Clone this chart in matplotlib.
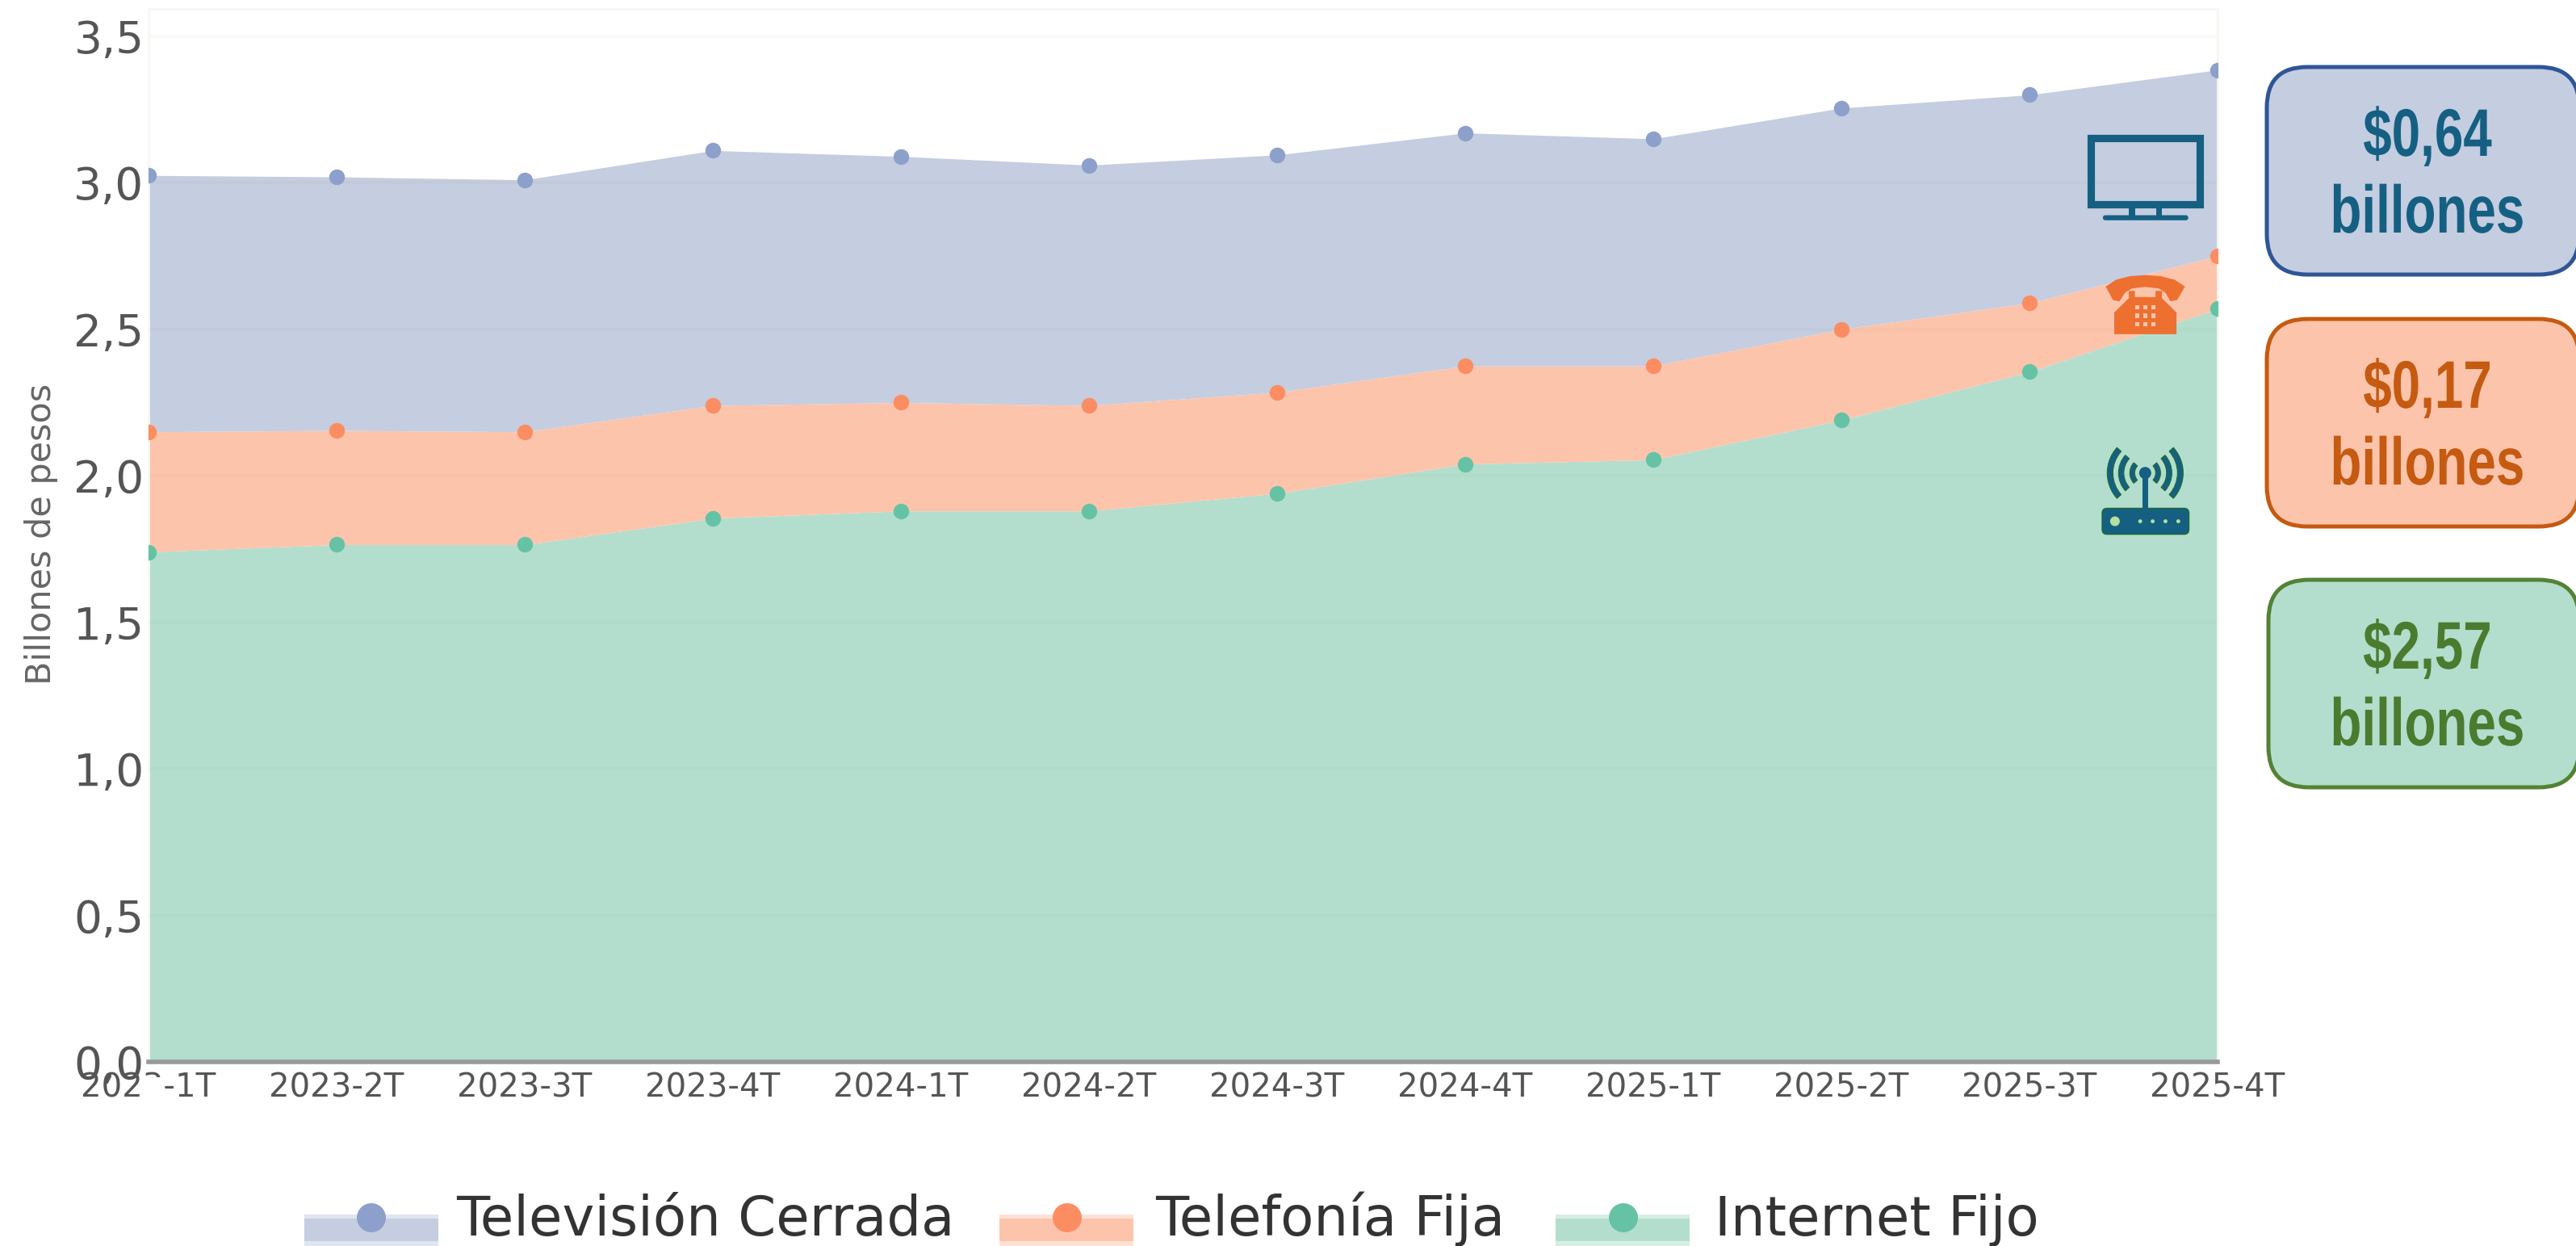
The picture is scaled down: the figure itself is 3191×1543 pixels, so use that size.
import matplotlib
matplotlib.use("Agg")
import matplotlib.pyplot as plt
from matplotlib.patches import FancyBboxPatch, Rectangle, Circle, Wedge, Polygon
from matplotlib.patheffects import AbstractPathEffect
from matplotlib.transforms import Affine2D

W, H = 3191, 1543
periods = ["2023-1T", "2023-2T", "2023-3T", "2023-4T", "2024-1T", "2024-2T",
           "2024-3T", "2024-4T", "2025-1T", "2025-2T", "2025-3T", "2025-4T"]
total_tv = [3.025, 3.02, 3.01, 3.11, 3.09, 3.06, 3.095, 3.17, 3.15, 3.255, 3.30, 3.385]
total_tel = [2.15, 2.155, 2.15, 2.24, 2.25, 2.24, 2.285, 2.375, 2.375, 2.50, 2.59, 2.75]
total_int = [1.74, 1.765, 1.765, 1.855, 1.88, 1.88, 1.94, 2.04, 2.055, 2.19, 2.355, 2.57]
y_ticks = [0, 0.5, 1, 1.5, 2, 2.5, 3, 3.5]
y_labels = ["0,0", "0,5", "1,0", "1,5", "2,0", "2,5", "3,0", "3,5"]
series_names = ["Televisión Cerrada", "Telefonía Fija", "Internet Fijo"]
callout_values = ["$0,64", "$0,17", "$2,57"]

FILL = ["#C5CDE0", "#FDC4AC", "#B3DECD"]
MARK = ["#8DA0CB", "#FC8D62", "#66C2A5"]
EDGE = ["#2F5597", "#C55A11", "#548235"]
TXT = ["#156082", "#C55A11", "#4B7B2F"]
TEAL = "#156082"
GRAY = "#555555"


class Narrow(AbstractPathEffect):
    """Squeeze real text horizontally about a pixel column."""

    def __init__(self, cx, sx):
        super().__init__()
        self.cx, self.sx = cx, sx

    def draw_path(self, renderer, gc, tpath, affine, rgbFace=None):
        t = Affine2D().translate(-self.cx, 0).scale(self.sx, 1).translate(self.cx, 0)
        renderer.draw_path(gc, tpath, affine + t, rgbFace)


fig = plt.figure(figsize=(W / 100, H / 100), dpi=100, facecolor="white")
L, R, T, B = 184, 2747, 11, 1315
ax = fig.add_axes([L / W, 1 - B / H, (R - L) / W, (B - T) / H])
x = list(range(len(periods)))
ax.set_xlim(0, 11)
ax.set_ylim(0, (B - T) / 362.9)

ax.fill_between(x, 0, total_int, color=FILL[2], lw=0, zorder=1)
ax.fill_between(x, total_int, total_tel, color=FILL[1], lw=0, zorder=1)
ax.fill_between(x, total_tel, total_tv, color=FILL[0], lw=0, zorder=1)
for yv in y_ticks[1:]:
    ax.axhline(yv, color="#8a7a50", alpha=0.035, lw=3, zorder=2)
for vals, c in zip([total_tv, total_tel, total_int], MARK):
    ax.plot(x, vals, ls="none", marker="o", ms=14, mec="none", mfc=c, zorder=3)

ax.set_xticks(x, periods)
ax.set_yticks(y_ticks, y_labels)
ax.tick_params(axis="x", length=0, pad=9, labelsize=29, colors=GRAY)
ax.tick_params(axis="y", length=0, pad=4, labelsize=39.5, colors=GRAY)
for s in ("top", "left", "right"):
    ax.spines[s].set_color("#F8F7F2")
    ax.spines[s].set_linewidth(2)
ax.spines["bottom"].set_color("#999999")
ax.spines["bottom"].set_linewidth(4)

# overlay in pixel coordinates
ov = fig.add_axes([0, 0, 1, 1], facecolor="none", zorder=5)
ov.set_xlim(0, W)
ov.set_ylim(H, 0)
ov.axis("off")

ov.text(51, 661, "Billones de pesos", rotation=90, ha="center", va="center",
        fontsize=31, color="#666666")

# part of the first tick label is hidden in the source
ov.add_patch(Rectangle((176, 1334), 27, 30, fc="white", ec="none"))

# legend
sw_x = [377, 1238, 1927]
mk_x = [460, 1322, 2011]
tx_x = [565, 1431, 2124]
for i in range(3):
    ov.add_patch(Rectangle((sw_x[i], 1504), 166, 39, fc=FILL[i], alpha=0.5, ec="none"))
    ov.add_patch(Rectangle((sw_x[i], 1509), 166, 28, fc=FILL[i], ec="none"))
    ov.add_patch(Circle((mk_x[i], 1508), 18, fc=MARK[i], ec="none"))
    ov.text(tx_x[i], 1530, series_names[i], ha="left", va="baseline", fontsize=48.5, color="#333333")

# callouts
boxes = [(2808, 83, 257), (2808, 395, 257), (2810, 718, 257)]
squeeze = [Narrow(3007, 0.765)]
for i, (bx, by, bh) in enumerate(boxes):
    ov.add_patch(FancyBboxPatch((bx, by), 3191 + 4 - bx, bh,
                                boxstyle="round,pad=0,rounding_size=50",
                                fc=FILL[i], ec=EDGE[i], lw=3.6, mutation_aspect=1))
    ov.text(3007, by + 88, callout_values[i], ha="center", va="center", fontsize=60,
            fontweight="bold", color=TXT[i], family="Liberation Sans", path_effects=squeeze)
    ov.text(3007, by + 183, "billones", ha="center", va="center", fontsize=60,
            fontweight="bold", color=TXT[i], family="Liberation Sans", path_effects=squeeze)


def zx(v):
    return 2500 + v / 2.269


def zy(v):
    return 50 + v / 2.24


def box(x0, y0, x1, y1, color, zo=6, **kw):
    ov.add_patch(Rectangle((zx(x0), zy(y0)), (x1 - x0) / 2.269, (y1 - y0) / 2.24,
                           fc=color, ec="none", zorder=zo, **kw))


# television icon
ov.add_patch(Rectangle((zx(205), zy(272)), 305 / 2.269, 183 / 2.24, fc="none", ec=TEAL, lw=6.6, zorder=6))
box(310, 465, 328, 486, TEAL)
box(387, 465, 405, 486, TEAL)
ov.add_patch(FancyBboxPatch((zx(238), zy(485)), 240 / 2.269, 14 / 2.24,
                            boxstyle="round,pad=0,rounding_size=3", fc=TEAL, ec="none", zorder=6))

# telephone icon
PH = "#ED7031"
ov.add_patch(Polygon([(zx(a), zy(b)) for a, b in [
    (246, 683), (275, 664), (315, 654), (357, 651), (400, 654), (440, 664), (469, 683),
    (447, 720), (428, 724), (414, 700), (395, 688), (357, 684), (320, 688), (300, 700),
    (285, 724), (266, 720)]], fc=PH, ec="none", zorder=6))
ov.add_patch(Polygon([(zx(a), zy(b)) for a, b in [
    (270, 815), (270, 755), (311, 715), (311, 695), (328, 695), (328, 712),
    (386, 712), (386, 695), (404, 695), (404, 715), (445, 755), (445, 815)]],
    fc=PH, ec="none", zorder=6))
for kx in (334, 357, 380):
    for ky in (741, 764, 787):
        box(kx - 6, ky - 6, kx + 6, ky + 6, FILL[1], zo=7)

# router icon
RG = "#1E6B2E"
ov.add_patch(FancyBboxPatch((zx(236), zy(1298)), 244 / 2.269, 72 / 2.24,
                            boxstyle="round,pad=0,rounding_size=6", fc=TEAL, ec=RG, lw=1, zorder=6))
ov.add_patch(Circle((zx(272), zy(1334)), 6, fc="#B6E0A0", ec="none", zorder=7))
for cx in (343, 378, 414, 450):
    ov.add_patch(Circle((zx(cx), zy(1334)), 2.4, fc="#B6E0A0", ec="none", zorder=7))
box(349, 1200, 365, 1300, TEAL)
cc = (zx(357), zy(1200))
ov.add_patch(Circle(cc, 7.5, fc=TEAL, ec="none", zorder=7))
for rad, wid in [(19, 6), (33, 6.5), (47, 7)]:
    for a0, a1 in [(-42, 42), (138, 222)]:
        ov.add_patch(Wedge(cc, rad, a0, a1, width=wid, fc=TEAL, ec=RG, lw=0.8, zorder=6))

fig.savefig("out.png", dpi=100)
